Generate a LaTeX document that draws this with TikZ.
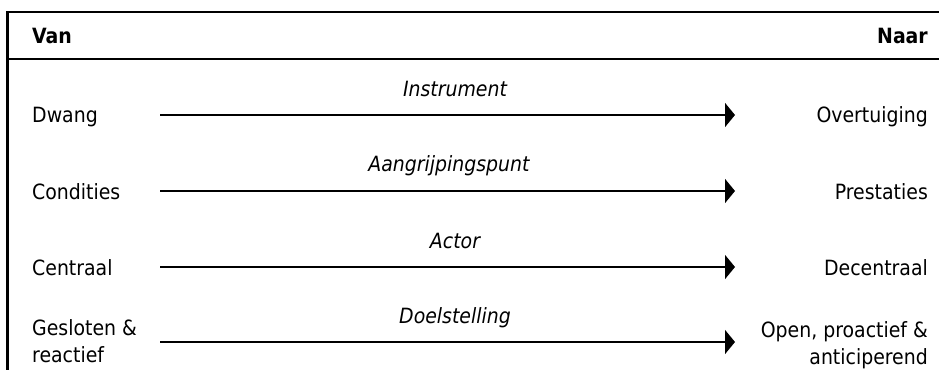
\documentclass[tikz,border=0pt]{standalone}
\usepackage{fontspec}
\setmainfont{DejaVu Sans Condensed}
\usetikzlibrary{arrows.meta}
\begin{document}
\begin{tikzpicture}[x=1pt,y=-1pt,
  txt/.style={inner sep=0pt, font=\fontsize{21}{27}\selectfont},
  lft/.style={txt, anchor=base west, align=left},
  rgt/.style={txt, anchor=base east, align=right},
  hdr/.style={txt, font=\fontsize{21}{27}\selectfont\bfseries},
  lbl/.style={txt, anchor=base, font=\fontsize{21}{27}\selectfont\itshape},
  border/.style={line width=2.2pt, black},
  flow/.style={line width=1.6pt, -{Triangle[length=10pt,width=24pt]}}]
\useasboundingbox (0,0) rectangle (939,370);
% frame
\coordinate (tl) at (7.5,12);
\coordinate (tr) at (939,12);
\coordinate (bl) at (7.5,370);
\coordinate (hl) at (7.5,59);
\coordinate (hr) at (939,59);
\draw[border] (tr) -- (tl) -- (bl);
\draw[border] (hl) -- (hr);
% header
\node[hdr, anchor=base west] (van) at (32,43) {Van};
\node[hdr, anchor=base east] (naar) at (928,43) {Naar};
% rows
\node[lft] (l1) at (32,122) {Dwang};
\node[rgt] (r1) at (928,122) {Overtuiging};
\node[lbl] (t1) at (455,96) {Instrument};
\coordinate (a1) at (160,115);
\coordinate (b1) at (735,115);
\draw[flow] (a1) -- (b1);

\node[lft] (l2) at (32,199) {Condities};
\node[rgt] (r2) at (928,199) {Prestaties};
\node[lbl] (t2) at (449,171) {Aangrijpingspunt};
\coordinate (a2) at (160,191);
\coordinate (b2) at (735,191);
\draw[flow] (a2) -- (b2);

\node[lft] (l3) at (32,275) {Centraal};
\node[rgt] (r3) at (928,275) {Decentraal};
\node[lbl] (t3) at (455,248) {Actor};
\coordinate (a3) at (160,267);
\coordinate (b3) at (735,267);
\draw[flow] (a3) -- (b3);

\node[lft] (l4) at (32,362) {Gesloten \&\\reactief};
\node[rgt] (r4) at (928,364) {Open, proactief \&\\anticiperend};
\node[lbl] (t4) at (455,323) {Doelstelling};
\coordinate (a4) at (160,342);
\coordinate (b4) at (735,342);
\draw[flow] (a4) -- (b4);
\end{tikzpicture}
\end{document}
